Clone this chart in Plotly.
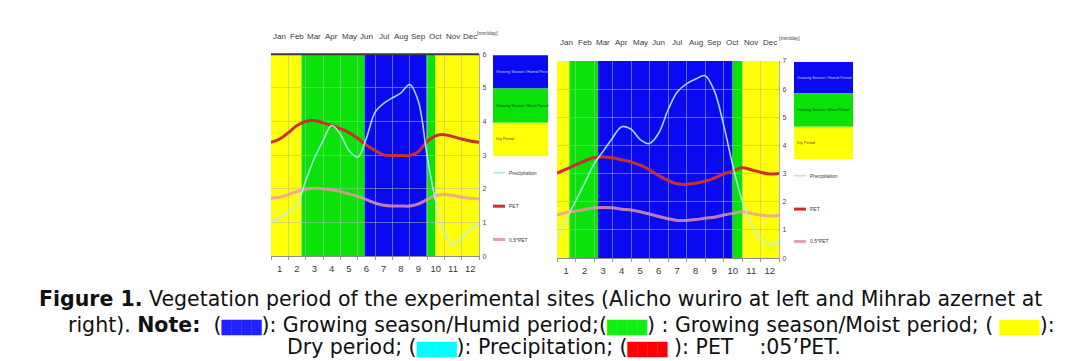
import plotly.graph_objects as go

# ---------------- data ----------------
months = ["Jan", "Feb", "Mar", "Apr", "May", "Jun", "Jul", "Aug", "Sep", "Oct", "Nov", "Dec"]
month_numbers = [1, 2, 3, 4, 5, 6, 7, 8, 9, 10, 11, 12]
sample_x = [0.5, 1.0, 1.5, 2.0, 2.5, 3.0, 3.5, 4.0, 4.5, 5.0, 5.5, 6.0, 6.5,
            7.0, 7.5, 8.0, 8.5, 9.0, 9.5, 10.0, 10.5, 11.0, 11.5, 12.0, 12.5]

# Alicho wuriro (left)
left_precip = [1.0, 1.15, 1.3, 1.53, 2.24, 2.9, 3.43, 3.88, 3.62, 3.14, 2.94, 3.5, 4.27,
               4.54, 4.7, 4.85, 5.1, 4.6, 3.0, 1.63, 0.68, 0.34, 0.54, 0.8, 0.97]
left_pet = [3.38, 3.48, 3.67, 3.88, 4.0, 4.03, 3.96, 3.88, 3.79, 3.67, 3.5, 3.3, 3.14,
            3.01, 2.99, 2.99, 2.99, 3.1, 3.4, 3.57, 3.61, 3.55, 3.48, 3.42, 3.38]
left_half_pet = [1.73, 1.75, 1.83, 1.92, 1.99, 2.02, 2.0, 1.97, 1.92, 1.85, 1.78, 1.68, 1.58,
                 1.51, 1.49, 1.49, 1.49, 1.55, 1.68, 1.8, 1.83, 1.8, 1.75, 1.72, 1.7]
left_band_edges = [0.5, 2.26, 5.9, 9.48, 9.98, 12.5]
left_band_types = ["dry", "moist", "humid", "moist", "dry"]

# Mihrab azernet (right)
right_precip = [0.72, 1.38, 2.02, 2.67, 3.34, 3.8, 4.27, 4.67, 4.58, 4.21, 4.07, 4.44, 5.26,
                5.9, 6.19, 6.36, 6.48, 5.95, 4.75, 3.3, 2.05, 1.2, 0.68, 0.45, 0.62]
right_pet = [3.02, 3.16, 3.31, 3.45, 3.57, 3.59, 3.57, 3.49, 3.42, 3.3, 3.14, 2.93, 2.76,
             2.64, 2.62, 2.66, 2.73, 2.84, 2.99, 3.1, 3.21, 3.14, 3.05, 2.99, 3.01]
right_half_pet = [1.53, 1.62, 1.67, 1.73, 1.79, 1.8, 1.79, 1.74, 1.71, 1.65, 1.57, 1.48, 1.4,
                  1.34, 1.34, 1.37, 1.42, 1.45, 1.53, 1.59, 1.65, 1.59, 1.53, 1.5, 1.51]
right_band_edges = [0.5, 1.17, 2.72, 9.99, 10.52, 12.5]
right_band_types = ["dry", "moist", "humid", "moist", "dry"]

band_labels = {"humid": "Growing Season / Humid Period",
               "moist": "Growing Season / Moist Period",
               "dry": "Dry Period"}
line_labels = ["Precipitation", "PET", "0.5*PET"]

# ---------------- styles ----------------
W, H = 1081, 361
BAND_COL = {"humid": "#0a0af2", "moist": "#0ae20a", "dry": "#ffff0a"}
BAND_TXT = {"humid": "#c8c8ff", "moist": "#104a10", "dry": "#4a4a10"}
C_PRE = "rgba(175,240,248,0.9)"
C_PET = "#c83030"
C_HALF = "rgba(238,150,168,0.8)"
GRID = "rgba(180,180,180,0.55)"
SMALL = "Liberation Sans, Arial, sans-serif"


def fx(p):
    return p / W


def fy(p):
    return 1 - p / H


fig = go.Figure()

panels = [
    dict(xa="x", ya="y", xname="xaxis", yname="yaxis", box=(263, 471, 43, 249), ymax=6,
         pre=left_precip, pet=left_pet, half=left_half_pet,
         edges=left_band_edges, types=left_band_types,
         month_y=25, unit=(480, 21.5), legend=(485, 540, [44, 78, 113, 147], [164, 198, 232]),
         topline=True),
    dict(xa="x2", ya="y2", xname="xaxis2", yname="yaxis2", box=(549, 771, 50, 251), ymax=7,
         pre=right_precip, pet=right_pet, half=right_half_pet,
         edges=right_band_edges, types=right_band_types,
         month_y=31.5, unit=(781, 27), legend=(786, 845, [51, 83, 117, 150], [167, 201, 234]),
         topline=False),
]

annotations = []
shapes = []

for p in panels:
    x0, x1, y0, y1 = p["box"]
    # bands
    for i, t in enumerate(p["types"]):
        shapes.append(dict(type="rect", xref=p["xa"], yref=p["ya"] + " domain",
                           x0=p["edges"][i], x1=p["edges"][i + 1], y0=0, y1=1,
                           fillcolor=BAND_COL[t], line=dict(width=0), layer="below"))
    if p["topline"]:
        shapes.append(dict(type="line", xref=p["xa"] + " domain", yref=p["ya"] + " domain",
                           x0=0, x1=1, y0=1, y1=1, line=dict(color="#3a3a3a", width=2)))
    # lines
    fig.add_trace(go.Scatter(x=sample_x, y=p["half"], mode="lines", xaxis=p["xa"], yaxis=p["ya"],
                             line=dict(color=C_HALF, width=3, shape="spline", smoothing=1.0),
                             showlegend=False, hoverinfo="skip"))
    fig.add_trace(go.Scatter(x=sample_x, y=p["pet"], mode="lines", xaxis=p["xa"], yaxis=p["ya"],
                             line=dict(color=C_PET, width=3, shape="spline", smoothing=1.0),
                             showlegend=False, hoverinfo="skip"))
    fig.add_trace(go.Scatter(x=sample_x, y=p["pre"], mode="lines", xaxis=p["xa"], yaxis=p["ya"],
                             line=dict(color=C_PRE, width=1.6, shape="spline", smoothing=1.0),
                             showlegend=False, hoverinfo="skip"))
    # axes
    fig.update_layout(**{
        p["xname"]: dict(domain=[fx(x0), fx(x1)], range=[0.5, 12.5], anchor=p["ya"],
                         tickmode="array", tickvals=month_numbers,
                         ticktext=[str(m) for m in month_numbers],
                         showgrid=False, zeroline=False, showline=True, linecolor="#8a8a8a",
                         linewidth=1, ticks="", ticklabelstandoff=3,
                         tickfont=dict(family=SMALL, size=9.5, color="#3a3a3a"),
                         minor=dict(tick0=0.5, dtick=1, showgrid=True, gridcolor=GRID,
                                    gridwidth=1, ticks="outside", ticklen=3, tickcolor="#9a9a9a"),
                         fixedrange=True),
        p["yname"]: dict(domain=[fy(y1), fy(y0)], range=[0, p["ymax"]], anchor=p["xa"],
                         side="right", dtick=1, showgrid=True, gridcolor=GRID, gridwidth=1.2,
                         zeroline=False, showline=True, linecolor="#b0b0b0", ticks="",
                         ticklabelstandoff=1,
                         tickfont=dict(family=SMALL, size=7, color="#4a4a4a"),
                         fixedrange=True),
    })
    # month names at the top
    for m, lab in zip(month_numbers, months):
        annotations.append(dict(x=m, y=fy(p["month_y"]), xref=p["xa"], yref="paper",
                                text=lab, showarrow=False, xanchor="center", yanchor="middle",
                                font=dict(family=SMALL, size=8, color="#3a3a3a")))
    annotations.append(dict(x=fx(p["unit"][0]), y=fy(p["unit"][1]), xref="paper", yref="paper",
                            text="[mm/day]", showarrow=False, xanchor="center", yanchor="middle",
                            font=dict(family=SMALL, size=5, color="#3a3a3a")))
    # legend
    lx0, lx1, rows, line_rows = p["legend"]
    for i, t in enumerate(["humid", "moist", "dry"]):
        shapes.append(dict(type="rect", xref="paper", yref="paper", x0=fx(lx0), x1=fx(lx1),
                           y0=fy(rows[i + 1]), y1=fy(rows[i]), fillcolor=BAND_COL[t],
                           line=dict(width=0)))
        annotations.append(dict(x=fx(lx0 + 1), y=fy((rows[i] + rows[i + 1]) / 2),
                                xref="paper", yref="paper", text=band_labels[t], showarrow=False,
                                xanchor="left", yanchor="middle",
                                font=dict(family=SMALL, size=3.8, color=BAND_TXT[t])))
    for ly, col, w, lab in zip(line_rows, ["#a8e8f8", C_PET, "#e8a0a8"], [1.5, 3, 3], line_labels):
        shapes.append(dict(type="line", xref="paper", yref="paper", x0=fx(lx0), x1=fx(lx0 + 12),
                           y0=fy(ly), y1=fy(ly), line=dict(color=col, width=w)))
        annotations.append(dict(x=fx(lx0 + 14), y=fy(ly), xref="paper", yref="paper", text=lab,
                                showarrow=False, xanchor="left", yanchor="middle",
                                font=dict(family=SMALL, size=5, color="#3a3a3a")))

# caption
CAP = "DejaVu Sans, Verdana, sans-serif"


def swatch(color):
    return "<span style='font-size:13px;color:%s'>████</span>" % color


cap_lines = [
    ("<b>Figure 1.</b> Vegetation period of the experimental sites (Alicho wuriro at left and Mihrab azernet at", 532, 293),
    ("right). <b>Note:</b>  (" + swatch("#2222ff") + "): Growing season/Humid period;(" + swatch("#11ee11")
     + ") : Growing season/Moist period; ( " + swatch("#ffff00") + "):", 553, 319),
    ("Dry period; (" + swatch("#00ffff") + "): Precipitation; (" + swatch("#ff0000") + " ): PET    :05’PET.", 556, 342),
]
for txt, cx, cy in cap_lines:
    annotations.append(dict(x=fx(cx), y=fy(cy), xref="paper", yref="paper", text=txt,
                            showarrow=False, xanchor="center", yanchor="middle",
                            font=dict(family=CAP, size=20.5, color="#111111")))

fig.update_layout(width=W, height=H, margin=dict(l=0, r=0, t=0, b=0),
                  paper_bgcolor="white", plot_bgcolor="white", showlegend=False,
                  shapes=shapes, annotations=annotations)

fig.write_html("out.html")
